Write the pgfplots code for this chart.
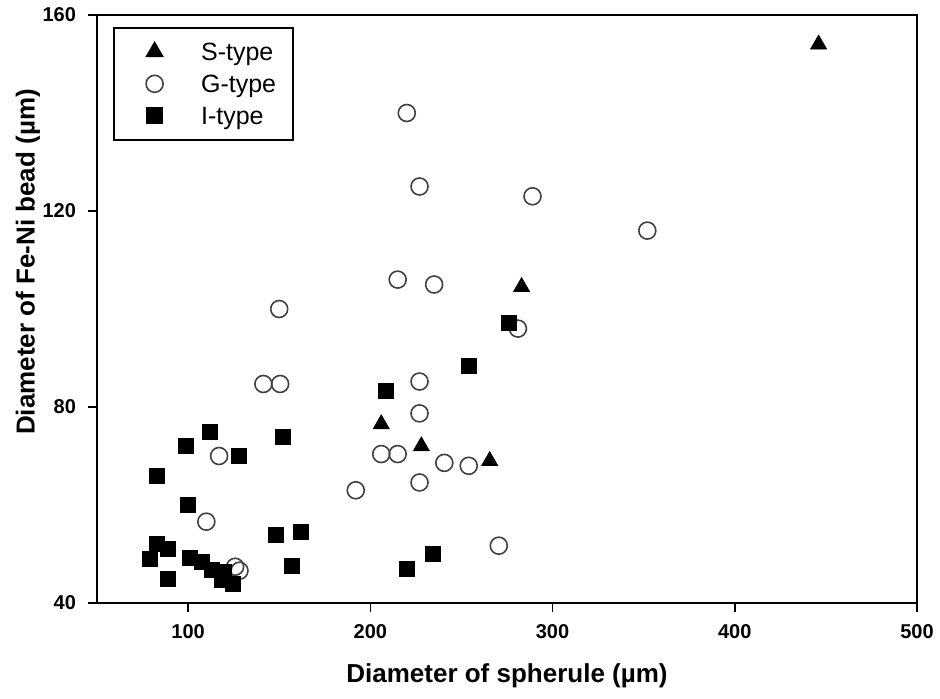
\documentclass[border=0pt]{standalone}
\usepackage{fontspec}
\setmainfont{Liberation Sans}
\usepackage{pgfplots}
\pgfplotsset{compat=1.18}
\begin{document}
\begin{tikzpicture}
\useasboundingbox (-48.5pt,-47.5pt) rectangle (421.5pt,301.5pt);
\begin{axis}[
  at={(0,0)}, anchor=south west,
  scale only axis, width=410pt, height=294pt,
  xmin=50, xmax=500, ymin=40, ymax=160,
  xtick={100,200,300,400,500}, ytick={40,80,120,160},
  tick align=outside, xtick pos=bottom, ytick pos=left,
  major tick length=4.5pt,
  tick style={line width=0.8pt, black},
  axis line style={line width=1pt},
  /pgf/number format/assume math mode=true,
  ticklabel style={font=\bfseries\fontsize{10}{12}\selectfont},
  xticklabel style={yshift=-2.5pt},
  yticklabel style={xshift=-2.5pt},
  xlabel={Diameter of spherule (µm)},
  ylabel={Diameter of Fe-Ni bead (µm)},
  label style={font=\bfseries\fontsize{13}{15}\selectfont},
  xlabel style={at={(axis description cs:0.5,-0.124)}, anchor=center},
  ylabel style={at={(axis description cs:-0.0841,0.58)}, anchor=center},
  legend style={at={(axis description cs:0.0195,0.9796)}, anchor=north west,
    draw=black, line width=0.8pt, font=\fontsize{12.5}{14}\selectfont,
    inner xsep=6.5pt, inner ysep=4pt, row sep=0pt,
    nodes={inner sep=2pt, text height=10.5pt, text depth=1.5pt},
    /tikz/every odd column/.append style={column sep=17pt}},
  legend cell align=left,
  legend image code/.code={\path (-13.5pt,0pt); \draw[#1] plot coordinates {(0pt,0pt)};},
]
\addplot[only marks, mark=triangle*, mark size=4.6pt, black, mark options={fill=black}]
  coordinates {(446,154) (283,104.5) (206,76.5) (228,72) (265.5,69)};
\addlegendentry{S-type}
\addplot[only marks, mark=o, mark size=4.25pt, draw=black!75, line width=0.8pt, mark options={fill=white}]
  coordinates {(220,140) (227,125) (289,123) (352,116) (215,106) (235,105)
  (150,100) (281,96) (141.3,84.7) (150.5,84.7) (227,85.2) (227,78.7)
  (206,70.4) (215,70.4) (240.6,68.6) (254,68) (227,64.6) (192,63)
  (270.5,51.7) (117,70) (110,56.6) (125.8,47.4) (128.2,46.6)};
\addlegendentry{G-type}
\addplot[only marks, mark=square*, mark size=3.75pt, black, mark options={fill=black}]
  coordinates {(112,75) (99,72) (128,70) (152,74) (83,66) (100,60) (148,54)
  (162,54.5) (157,47.5) (83,52) (89,51) (79,49) (101,49.3) (107.5,48.4)
  (113,46.7) (119.4,46.4) (118.5,44.7) (124.4,43.8) (89,45) (254,88.4)
  (208.5,83.3) (276,97.1) (234.3,50) (220,47)};
\addlegendentry{I-type}
\end{axis}
\end{tikzpicture}
\end{document}
